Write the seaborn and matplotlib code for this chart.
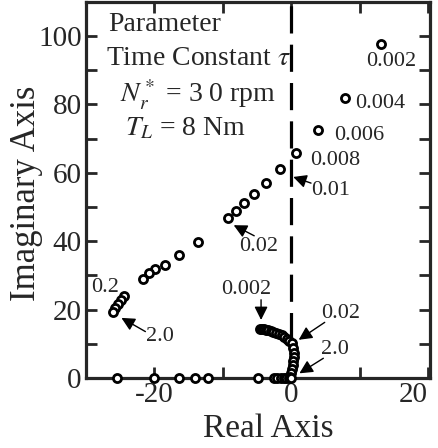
import matplotlib
matplotlib.use('Agg')
import matplotlib.pyplot as plt
import pandas as pd
import seaborn as sns

# upper root branch (tau = 0.002 ... 2.0)
upper_re = [13.1, 7.8, 3.9, 0.7, -1.6, -3.7, -5.4, -6.9, -8.1, -9.3, -13.6,
            -16.4, -18.5, -19.9, -20.7, -21.6, -24.4, -24.9, -25.3, -25.7, -26.1]
upper_im = [97.7, 81.8, 72.4, 65.9, 61.0, 57.0, 53.8, 51.2, 48.9, 46.8, 39.9,
            35.9, 33.2, 31.8, 30.6, 29.0, 24.0, 22.9, 21.8, 20.5, 19.4]

# branch near the origin
arc_re = [-4.5, -4.3, -4.0, -3.7, -3.4, -3.0, -2.6, -2.2, -1.8, -1.4, -1.0,
          -0.6, -0.3, 0.1, 0.3, 0.4, 0.4, 0.3, 0.2, 0.1, 0.0, -0.1]
arc_im = [14.5, 14.4, 14.3, 14.2, 14.1, 13.9, 13.6, 13.3, 13.0, 12.6, 12.1,
          11.5, 10.9, 10.2, 8.8, 7.4, 6.2, 5.0, 3.8, 2.6, 1.4, 0.4]

# real roots
real_re = [-25.4, -20.1, -16.4, -14.0, -12.2, -4.9, -2.5, -2.0, -1.5, -1.1, -0.7, -0.3, 0.0]
real_im = [0.0] * len(real_re)

# annotations: label, text x, text y, arrow tail and tip (or None)
labels = ['0.002', '0.004', '0.006', '0.008', '0.01', '0.02', '0.2', '2.0', '0.002', '0.02', '2.0']
lab_x = [11.0, 9.4, 6.3, 2.7, 2.9, -7.6, -29.3, -21.2, -10.3, 4.4, 4.4]
lab_y = [92.5, 80.3, 71.0, 63.6, 54.8, 38.6, 26.4, 12.1, 25.9, 19.0, 8.4]
tip_x = [None, None, None, None, 0.3, -8.4, None, -24.8, -4.4, 1.1, 1.2]
tip_y = [None, None, None, None, 58.8, 44.7, None, 17.6, 17.0, 11.2, 1.4]
tail_x = [None, None, None, None, 2.9, -5.4, None, -21.3, -4.4, 4.9, 4.7]
tail_y = [None, None, None, None, 57.0, 41.6, None, 13.6, 22.9, 16.3, 5.8]

df = pd.DataFrame({
    're': upper_re + arc_re + real_re,
    'im': upper_im + arc_im + real_im,
})

sns.set_style('ticks')
plt.rcParams['font.family'] = ['Liberation Serif', 'DejaVu Serif']
plt.rcParams['mathtext.fontset'] = 'stix'
plt.rcParams['axes.unicode_minus'] = False

fig = plt.figure(figsize=(4.38, 4.48), dpi=100)
ax = fig.add_axes([0.196, 0.156, 0.786, 0.840])

ax.axvline(0, color='black', lw=2.3, ls=(0, (8.5, 3.5)), zorder=1)

sns.scatterplot(data=df, x='re', y='im', ax=ax, marker='o', s=34,
                facecolor='white', edgecolor='black', linewidth=2.0,
                clip_on=False, zorder=3, legend=False)

for i in range(len(labels)):
    ax.text(lab_x[i], lab_y[i], labels[i], fontsize=16, ha='left', va='center')
    if tip_x[i] is not None:
        ax.annotate('', xy=(tip_x[i], tip_y[i]), xytext=(tail_x[i], tail_y[i]),
                    arrowprops=dict(arrowstyle='-|>', color='black', lw=1.0,
                                    mutation_scale=20, shrinkA=0, shrinkB=0))

ax.text(-26.8, 103.3, 'Parameter', fontsize=20, va='center')
ax.text(-27.0, 93.5, r'Time Constant $\tau$', fontsize=20, va='center')
ax.text(-25.0, 82.7, r'$N_r^*$ = 3 0 rpm', fontsize=20, va='center')
ax.text(-24.3, 73.0, r'$T_L$ = 8 Nm', fontsize=20, va='center')

ax.set_xlim(-30, 20.3)
ax.set_ylim(0, 110)
ax.set_xticks([-20, 0, 20])
ax.set_xticklabels(['-20', '0', '20'])
ax.get_xticklabels()[2].set_horizontalalignment('right')
ax.set_xticks([-10, 10], minor=True)
ax.set_yticks([0, 20, 40, 60, 80, 100])
ax.set_yticks([10, 30, 50, 70, 90], minor=True)

ax.tick_params(which='both', direction='in', top=True, right=True,
               length=8, width=2, labelsize=21, pad=3)
for sp in ax.spines.values():
    sp.set_linewidth(2.3)

ax.set_xlabel('Real Axis', fontsize=24)
ax.set_ylabel('Imaginary Axis', fontsize=25)
ax.xaxis.set_label_coords(0.53, -0.095)
ax.yaxis.set_label_coords(-0.125, 0.49)

fig.savefig('out.png', dpi=100)
